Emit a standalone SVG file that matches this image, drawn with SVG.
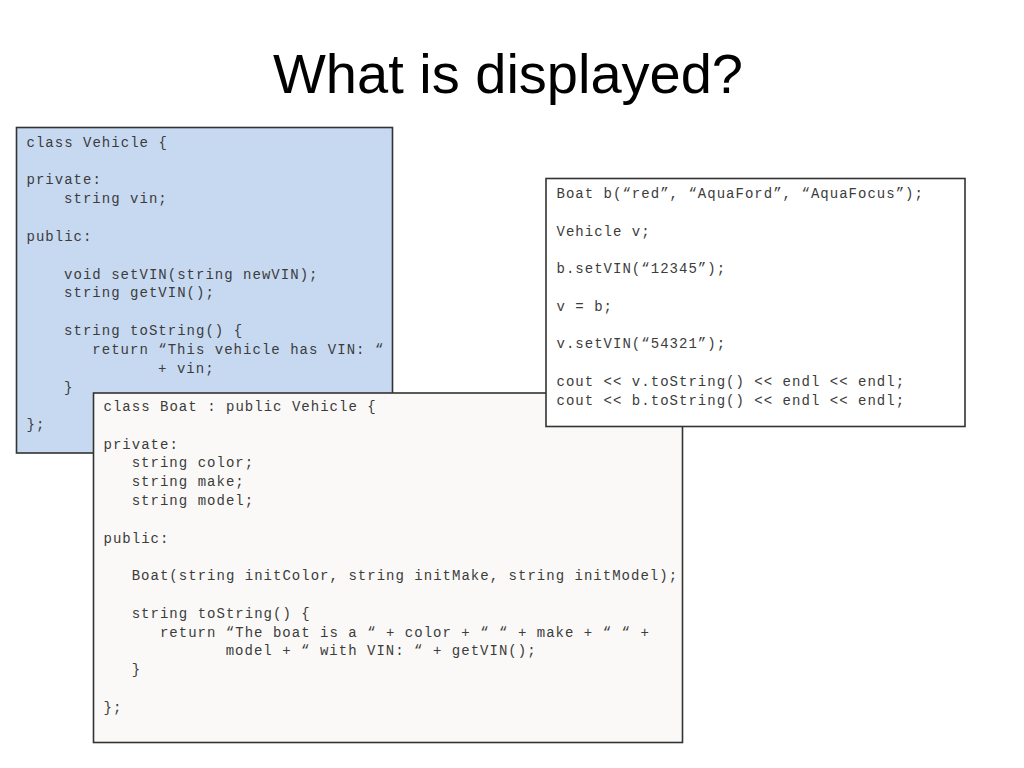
<svg xmlns="http://www.w3.org/2000/svg" width="1024" height="768" viewBox="0 0 1024 768">
<style>
.title{font-family:"Liberation Sans",Arial,sans-serif;font-size:56px;fill:#000;text-anchor:middle}
.code{font-family:"Liberation Mono","Courier New",monospace;font-size:14px;letter-spacing:1.02px;fill:#3c3c3c}
.box{stroke:#333;stroke-width:1.6}
</style>
<rect width="1024" height="768" fill="#fff"/>
<text class="title" x="508" y="93">What is displayed?</text>
<g id="vehicle">
<rect class="box" x="16.5" y="127.5" width="376" height="325.5" fill="#c6d9f1"/>
<text class="code" x="26.5" y="146.5">class Vehicle {</text>
<text class="code" x="26.5" y="184.2">private:</text>
<text class="code" x="64.1" y="203.1">string vin;</text>
<text class="code" x="26.5" y="240.8">public:</text>
<text class="code" x="64.1" y="278.5">void setVIN(string newVIN);</text>
<text class="code" x="64.1" y="297.3">string getVIN();</text>
<text class="code" x="64.1" y="335">string toString() {</text>
<text class="code" x="92.3" y="353.9">return “This vehicle has VIN: “</text>
<text class="code" x="158.1" y="372.7">+ vin;</text>
<text class="code" x="64.1" y="391.6">}</text>
<text class="code" x="26.5" y="429.3">};</text>
</g>
<g id="boat">
<rect class="box" x="93.5" y="393" width="589" height="349.5" fill="#faf9f7"/>
<text class="code" x="103.5" y="411">class Boat : public Vehicle {</text>
<text class="code" x="103.5" y="448.6">private:</text>
<text class="code" x="131.7" y="467.4">string color;</text>
<text class="code" x="131.7" y="486.2">string make;</text>
<text class="code" x="131.7" y="505">string model;</text>
<text class="code" x="103.5" y="542.6">public:</text>
<text class="code" x="131.7" y="580.2">Boat(string initColor, string initMake, string initModel);</text>
<text class="code" x="131.7" y="617.8">string toString() {</text>
<text class="code" x="159.9" y="636.6">return “The boat is a “ + color + “ “ + make + “ “ +</text>
<text class="code" x="225.7" y="655.4">model + “ with VIN: “ + getVIN();</text>
<text class="code" x="131.7" y="674.2">}</text>
<text class="code" x="103.5" y="711.8">};</text>
</g>
<g id="main">
<rect class="box" x="546" y="178.5" width="419" height="248" fill="#fff"/>
<text class="code" x="556.5" y="198">Boat b(“red”, “AquaFord”, “AquaFocus”);</text>
<text class="code" x="556.5" y="235.6">Vehicle v;</text>
<text class="code" x="556.5" y="273.2">b.setVIN(“12345”);</text>
<text class="code" x="556.5" y="310.8">v = b;</text>
<text class="code" x="556.5" y="348.4">v.setVIN(“54321”);</text>
<text class="code" x="556.5" y="386">cout &lt;&lt; v.toString() &lt;&lt; endl &lt;&lt; endl;</text>
<text class="code" x="556.5" y="404.8">cout &lt;&lt; b.toString() &lt;&lt; endl &lt;&lt; endl;</text>
</g>
</svg>
